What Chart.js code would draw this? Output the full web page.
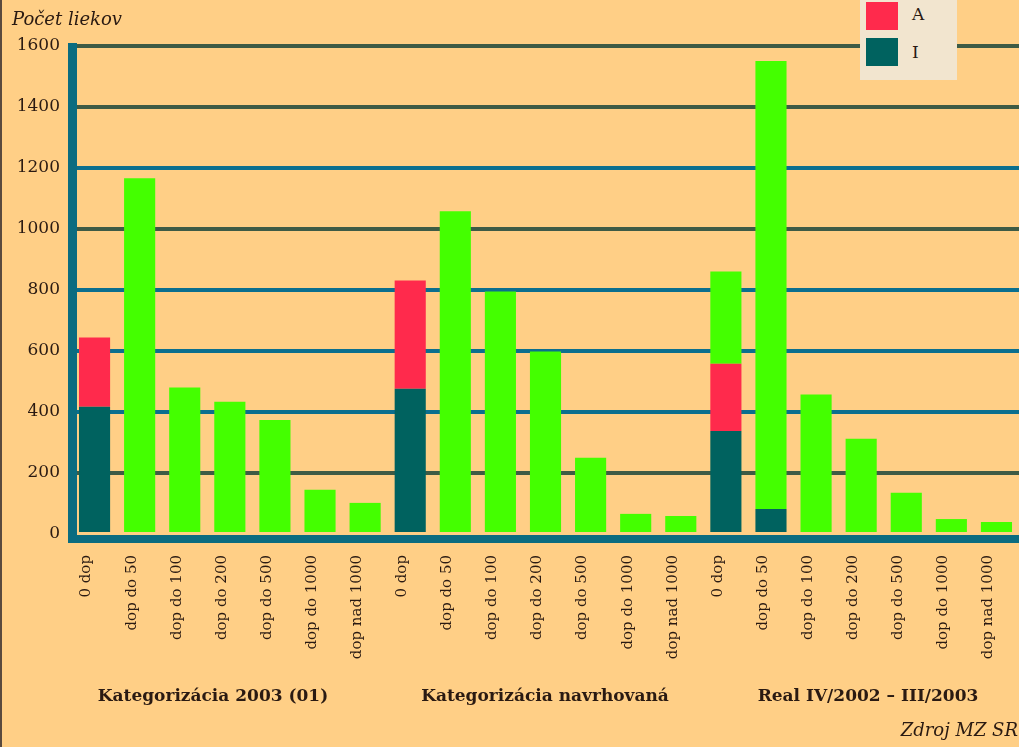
<!DOCTYPE html>
<html>
<head>
<meta charset="utf-8">
<script src="https://cdn.jsdelivr.net/npm/chart.js@4"></script>
<style>
    html, body { margin: 0; padding: 0; background: #FFCF86; overflow: hidden; }
    #wrap { position: relative; width: 1019px; height: 747px; background: #FFCF86; }
    #wrap canvas { position: absolute; left: 0; top: 0; }
    .txt { position: absolute; font-family: "DejaVu Serif", serif; color: #2a1a12; white-space: nowrap; }
    .grp { font-weight: bold; font-size: 17px; top: 685px; transform: translateX(-50%); }
    #edge { position: absolute; left: 0; top: 0; width: 2px; height: 747px; background: #5a4a3e; }
    #legend { position: absolute; left: 860px; top: 0; width: 97px; height: 80px; background: #F2E5CF; }
    #legend .sw { position: absolute; left: 6px; width: 32px; height: 28px; }
    #legend .lb { position: absolute; left: 52px; font-family: "DejaVu Serif", serif; font-size: 17px; color: #2a1a12; }
</style>
</head>
<body>
<div id="wrap">
    <canvas id="chart" width="1019" height="747"></canvas>
    <div id="edge"></div>
    <div class="txt" style="left:12px; top:8px; font-style:italic; font-size:18px;">Počet liekov</div>
    <div class="txt grp" style="left:213px;">Kategorizácia 2003 (01)</div>
    <div class="txt grp" style="left:545px;">Kategorizácia navrhovaná</div>
    <div class="txt grp" style="left:868px;">Real IV/2002 – III/2003</div>
    <div class="txt" style="right:1px; top:719px; font-style:italic; font-size:18px;">Zdroj MZ SR</div>
    <div id="legend">
        <div class="sw" style="top:2px; background:#FF2A4C;"></div>
        <div class="lb" style="top:4px;">A</div>
        <div class="sw" style="top:38px; background:#00625F;"></div>
        <div class="lb" style="top:42px;">I</div>
    </div>
</div>
<script>
const groupLabels = ['0 dop', 'dop do 50', 'dop do 100', 'dop do 200', 'dop do 500', 'dop do 1000', 'dop nad 1000'];
const categories = groupLabels.concat(groupLabels, groupLabels);

// I part (bottom of stack)
const iValues = [
    417, 0, 0, 0, 0, 0, 0,
    476, 0, 0, 0, 0, 0, 0,
    338, 82, 0, 0, 0, 0, 0
];
// A part (middle)
const aValues = [
    227, 0, 0, 0, 0, 0, 0,
    355, 0, 0, 0, 0, 0, 0,
    220, 0, 0, 0, 0, 0, 0
];
// rest (top)
const restValues = [
    0, 1166, 480, 434, 374, 145, 102,
    0, 1058, 795, 598, 250, 66, 59,
    303, 1469, 457, 312, 135, 49, 39
];
const yTicks = [0, 200, 400, 600, 800, 1000, 1200, 1400, 1600];

const darkGrid = '#3E5B45';
const blueGrid = '#0B6F8E';
const axisColor = '#0B6C80';

const axesPlugin = {
    id: 'axes',
    afterDatasetsDraw: function (chart) {
        const ctx = chart.ctx;
        const a = chart.chartArea;
        ctx.save();
        ctx.fillStyle = axisColor;
        ctx.fillRect(a.left - 4, a.top - 3, 9, a.bottom - a.top + 12);
        ctx.fillRect(a.left - 4, a.bottom + 1, a.right - a.left + 4, 8);
        ctx.restore();
    }
};

new Chart(document.getElementById('chart'), {
    type: 'bar',
    data: {
        labels: categories,
        datasets: [
            { label: 'I', data: iValues, backgroundColor: '#00625F' },
            { label: 'A', data: aValues, backgroundColor: '#FF2A4C' },
            { label: 'ostatné', data: restValues, backgroundColor: '#44FF00' }
        ]
    },
    options: {
        responsive: false,
        animation: false,
        devicePixelRatio: 1,
        layout: { padding: { top: 46, left: 0, right: 0, bottom: 0 } },
        datasets: {
            bar: { barPercentage: 0.69, categoryPercentage: 1 }
        },
        plugins: {
            legend: { display: false },
            tooltip: { enabled: false }
        },
        scales: {
            x: {
                stacked: true,
                grid: { display: false, drawTicks: false },
                border: { display: false },
                afterFit: function (scale) {
                    scale.height = 213;
                    scale.paddingLeft = 0;
                    scale.paddingRight = 0;
                },
                ticks: {
                    autoSkip: false,
                    minRotation: 90,
                    maxRotation: 90,
                    padding: 21,
                    labelOffset: -8,
                    color: '#2a1a12',
                    font: { family: 'DejaVu Serif', size: 15 }
                }
            },
            y: {
                stacked: true,
                min: 0,
                max: 1600,
                afterFit: function (scale) { scale.width = 72; },
                afterBuildTicks: function (scale) {
                    scale.ticks = yTicks.map(function (v) { return { value: v }; });
                },
                border: { display: false },
                grid: {
                    drawTicks: false,
                    lineWidth: 4,
                    color: function (c) {
                        const v = c.tick ? c.tick.value : 0;
                        if (v === 0) return 'rgba(0,0,0,0)';
                        if (v === 200 || v === 1000 || v === 1400 || v === 1600) return darkGrid;
                        return blueGrid;
                    }
                },
                ticks: {
                    padding: 12,
                    color: '#2a1a12',
                    font: { family: 'DejaVu Serif', size: 17 },
                    callback: function (v) { return String(v); }
                }
            }
        }
    },
    plugins: [axesPlugin]
});
</script>
</body>
</html>
